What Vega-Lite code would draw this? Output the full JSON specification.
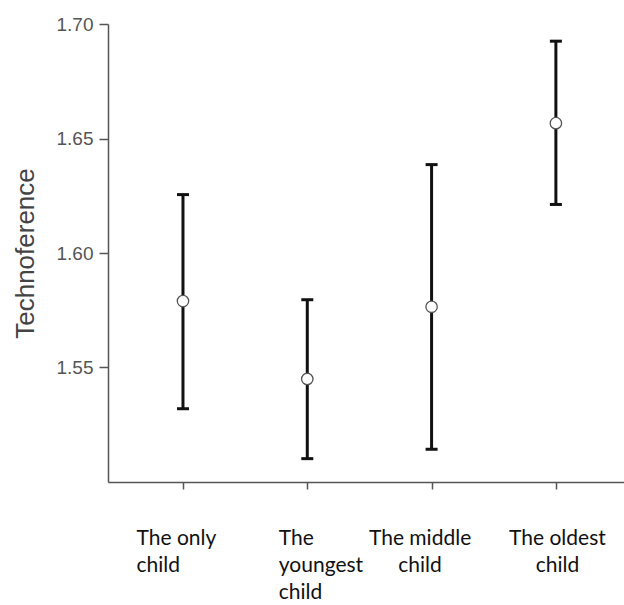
{
  "$schema": "https://vega.github.io/schema/vega-lite/v6.json",
  "autosize": "none",
  "width": 516,
  "height": 458,
  "padding": {"left": 108, "top": 24, "right": 0, "bottom": 123},
  "background": "white",
  "config": {
    "view": {"stroke": null},
    "axisY": {
      "titleFont": "Liberation Sans",
      "titleFontSize": 26,
      "titleFontWeight": "normal",
      "titleColor": "#444444",
      "titlePadding": 18,
      "labelFont": "Liberation Sans",
      "labelFontSize": 19,
      "labelColor": "#555555",
      "labelPadding": 6,
      "tickSize": 9,
      "tickColor": "#555555",
      "tickWidth": 1.5,
      "domainColor": "#555555",
      "domainWidth": 1.5,
      "grid": false
    }
  },
  "data": {
    "values": [
      {"group": "The only child", "mean": 1.579, "lower": 1.532, "upper": 1.6255},
      {"group": "The youngest child", "mean": 1.545, "lower": 1.5102, "upper": 1.5796},
      {"group": "The middle child", "mean": 1.5765, "lower": 1.5143, "upper": 1.6386},
      {"group": "The oldest child", "mean": 1.6567, "lower": 1.6212, "upper": 1.6925}
    ]
  },
  "encoding": {
    "x": {
      "field": "group",
      "type": "nominal",
      "sort": null,
      "scale": {"type": "point", "padding": 0.5756, "align": 0.524},
      "axis": {
        "title": null,
        "domainColor": "#555555",
        "domainWidth": 1.5,
        "tickColor": "#555555",
        "tickWidth": 1.5,
        "tickSize": 7,
        "labelAngle": 0,
        "labelFont": "Lato",
        "labelFontSize": 21,
        "labelColor": "#111111",
        "labelPadding": 38,
        "labelBaseline": "top",
        "labelLineHeight": 27,
        "labelAlign": {"condition": {"test": "datum.value == 'The only child' || datum.value == 'The youngest child'", "value": "left"}, "value": "center"},
        "labelOffset": {"condition": [
          {"test": "datum.value == 'The only child'", "value": -47},
          {"test": "datum.value == 'The youngest child'", "value": -29},
          {"test": "datum.value == 'The middle child'", "value": -12}
        ], "value": 1},
        "labelExpr": "datum.value == 'The youngest child' ? ['The','youngest','child'] : datum.value == 'The only child' ? ['The only','child'] : datum.value == 'The middle child' ? ['The middle','child'] : ['The oldest','child']"
      }
    },
    "y": {
      "field": "lower",
      "type": "quantitative",
      "scale": {"domain": [1.5, 1.7], "nice": false, "zero": false},
      "axis": {"title": "Technoference", "values": [1.55, 1.6, 1.65, 1.7], "format": ".2f"}
    }
  },
  "layer": [
    {
      "mark": {"type": "rule", "color": "#111111", "strokeWidth": 3},
      "encoding": {"y2": {"field": "upper"}}
    },
    {
      "mark": {"type": "tick", "color": "#111111", "thickness": 3, "size": 12, "opacity": 1},
      "encoding": {"y": {"field": "upper", "type": "quantitative", "title": "Technoference"}}
    },
    {
      "mark": {"type": "tick", "color": "#111111", "thickness": 3, "size": 12, "opacity": 1}
    },
    {
      "mark": {"type": "point", "shape": "circle", "filled": true, "fill": "white", "stroke": "#555555", "strokeWidth": 1.3, "size": 130, "opacity": 1},
      "encoding": {"y": {"field": "mean", "type": "quantitative", "title": "Technoference"}}
    }
  ]
}
